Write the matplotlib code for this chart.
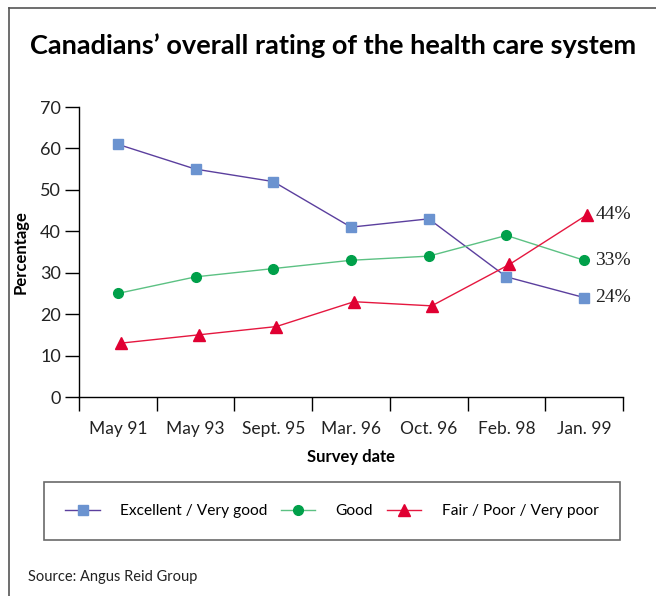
import numpy as np
import matplotlib.pyplot as plt
from matplotlib.lines import Line2D
import matplotlib.transforms as mtransforms

# survey data (percent)
dates     = ['May 91', 'May 93', 'Sept. 95', 'Mar. 96', 'Oct. 96', 'Feb. 98', 'Jan. 99']
excellent = [61, 55, 52, 41, 43, 29, 24]
good      = [25, 29, 31, 33, 34, 39, 33]
fair      = [13, 15, 17, 23, 22, 32, 44]

sans  = ['Lato', 'DejaVu Sans']
serif = ['Liberation Serif', 'DejaVu Serif']

fig = plt.figure(figsize=(6.56, 5.96), dpi=100)
ax = fig.add_axes([79/656., 1-397/596., 544/656., 290/596.])

x = np.arange(len(dates)) + 0.5
tri_tr = mtransforms.offset_copy(ax.transData, fig=fig, x=3, y=0, units='dots')

ax.plot(x, excellent, color='#5b3f9e', lw=1.0, marker='s', ms=7.5,
        mfc='#6b93d0', mec='#6b93d0', label='Excellent / Very good', zorder=3)
ax.plot(x, good, color='#5cc183', lw=1.0, marker='o', ms=7,
        mfc='#00a04a', mec='#00a04a', label='Good', zorder=3)
ax.plot(x, fair, color='#e5173f', lw=1.0, marker='^', ms=9,
        mfc='#e00032', mec='#e00032', label='Fair / Poor / Very poor',
        transform=tri_tr, zorder=4)

# end labels
for vals in [fair, good, excellent]:
    ax.annotate('{:d}%'.format(vals[-1]), (x[-1], vals[-1]),
                xytext=(8, 0), textcoords='offset points',
                va='center', ha='left', fontsize=14,
                family=serif, color='#222222', annotation_clip=False)

ax.set_xlim(0, 7)
ax.set_ylim(0, 70)
ax.set_xticks(np.arange(0, 8))
ax.set_xticklabels([])
ax.set_xticks(x, minor=True)
ax.set_xticklabels(dates, minor=True, fontsize=12.5, family=sans, color='#222222')
ax.set_yticks(range(0, 71, 10))
ax.set_yticklabels([str(v) for v in range(0, 71, 10)], fontsize=13,
                   family=sans, color='#222222')
ax.tick_params(axis='x', which='major', length=10, width=1, direction='out')
ax.tick_params(axis='x', which='minor', length=0, pad=17)
ax.tick_params(axis='y', length=10, width=1, direction='out', pad=3)
for s in ['top', 'right']:
    ax.spines[s].set_visible(False)
ax.spines['left'].set_linewidth(1)
ax.spines['bottom'].set_linewidth(1)

ax.set_xlabel('Survey date', fontsize=12, fontweight='bold', family=sans, labelpad=9)
ax.set_ylabel('Percentage', fontsize=12, fontweight='bold', family=sans, labelpad=8)

fig.text(0.508, 1-46/596., 'Canadians\u2019 overall rating of the health care system',
         ha='center', va='center', fontsize=19.5, fontweight='bold', family=sans)

leg = fig.legend(loc='center', bbox_to_anchor=(332/656., 1-511/596.), ncol=3,
                 prop={'family': sans, 'size': 11.2}, frameon=True, fancybox=False,
                 handlelength=2.2, handletextpad=1.3, columnspacing=0.9,
                 borderpad=1.4, edgecolor='#444444')
leg.get_frame().set_linewidth(1.2)

fig.text(28/656., 1-577/596., 'Source: Angus Reid Group', fontsize=10.5,
         family=sans, va='center', ha='left', color='#222222')

# outer frame (top and left)
fig.add_artist(Line2D([9/656., 9/656.], [0, 1-8/596.], transform=fig.transFigure,
                      color='#555555', lw=1.2))
fig.add_artist(Line2D([9/656., 1], [1-8/596., 1-8/596.], transform=fig.transFigure,
                      color='#555555', lw=1.2))

plt.savefig('out.png', dpi=100)
plt.close()
